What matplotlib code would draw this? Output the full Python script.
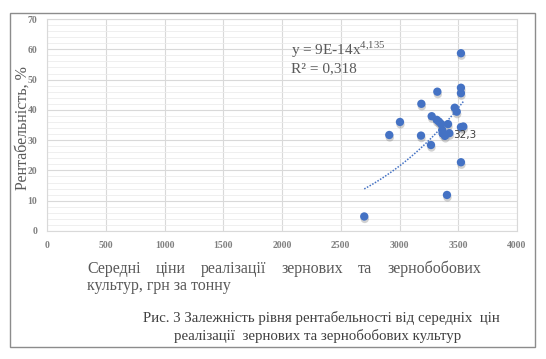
import numpy as np
import matplotlib
matplotlib.use("Agg")
import matplotlib.pyplot as plt
import matplotlib.transforms as mtransforms
from matplotlib.patches import Rectangle

plt.rcParams['mathtext.fontset'] = 'custom'
plt.rcParams['mathtext.rm'] = 'Liberation Serif'

# average sale price, UAH per tonne / profitability, %
price = [2700, 2913, 3004, 3183, 3186, 3268, 3274, 3317, 3322, 3336, 3356, 3364,
         3367, 3387, 3413, 3424, 3404, 3470, 3487, 3523, 3523, 3523, 3523, 3523, 3543]
profit = [4.8, 31.7, 36.0, 31.5, 42.0, 28.4, 37.9, 36.7, 46.0, 36.1, 35.3, 33.3,
          32.2, 31.4, 35.3, 32.3, 11.9, 40.7, 39.4, 58.7, 47.3, 45.5, 34.3, 22.7, 34.5]
label_idx = 15  # point carrying the "32,3" data label

# power trendline shown on the chart
coef_a = 9e-14
coef_b = 4.135

blue = '#4472C4'
grey = '#595959'

fig = plt.figure(figsize=(5.46, 3.59), dpi=100)
fig.patch.set_facecolor('white')
fig.patches.append(Rectangle((10 / 546, 1 - 347 / 359), 525 / 546, 334 / 359,
                             transform=fig.transFigure, fill=False,
                             edgecolor='#8c8c8c', linewidth=1.0))

ax = fig.add_axes([47 / 546, 1 - 231 / 359, 470 / 546, 212 / 359])
ax.set_xlim(0, 4000)
ax.set_ylim(0, 70)
ax.set_xticks(np.arange(0, 4001, 500))
ax.set_yticks(np.arange(0, 71, 10))
ax.set_yticks(np.arange(0, 71, 2), minor=True)
ax.grid(which='major', color='#d9d9d9', linewidth=0.8)
ax.grid(which='minor', axis='y', color='#ececec', linewidth=0.6)
ax.set_axisbelow(True)
for s in ax.spines.values():
    s.set_color('#d9d9d9')
    s.set_linewidth(0.8)
ax.tick_params(which='both', length=0, labelsize=7, labelcolor='#7f7f7f', pad=7)
for lab in ax.get_xticklabels() + ax.get_yticklabels():
    lab.set_family('Liberation Serif')
    lab.set_fontweight('bold')

# trendline
xs = np.linspace(min(price), max(price), 100)
ax.plot(xs, coef_a * xs ** coef_b, color=blue, linestyle=(0, (1, 1)), linewidth=1.1, zorder=2)

# marker shadows then markers
shadow = mtransforms.offset_copy(ax.transData, fig=fig, x=0.5, y=-2.5, units='dots')
ax.scatter(price, profit, s=36, color='#808080', alpha=0.35, edgecolors='none',
           transform=shadow, zorder=3)
ax.scatter(price, profit, s=36, color=blue, edgecolors='none', zorder=4)

ax.annotate('32,3', (price[label_idx], profit[label_idx]), xytext=(3, -1),
            textcoords='offset points', fontsize=7.5, color='#404040',
            family='DejaVu Sans', va='center', ha='left', zorder=5)

ax.text(2080, 58.0, r'y = 9E-14x$^{\mathrm{4{,}135}}$', fontsize=11,
        family='Liberation Serif', color=grey, va='baseline')
ax.text(2080, 52.5, 'R² = 0,318', fontsize=11, family='Liberation Serif',
        color=grey, va='baseline')

# y axis title
fig.text(23 / 546, 1 - 128 / 359, 'Рентабельність, %', rotation=90,
         fontsize=11.5, family='Liberation Serif', color=grey, ha='center', va='center')

# x axis title, first line justified between two pixel edges
words = ['Середні', 'ціни', 'реалізації', 'зернових', 'та', 'зернобобових']
left_px, right_px = 87, 481
renderer = fig.canvas.get_renderer()
word_texts = [fig.text(0, 1 - 269 / 359, w, fontsize=11.5, family='Liberation Serif',
                       color=grey, ha='left', va='center') for w in words]
widths = [t.get_window_extent(renderer).width for t in word_texts]
gap = (right_px - left_px - sum(widths)) / (len(words) - 1)
px = left_px
for t, wd in zip(word_texts, widths):
    t.set_x(px / 546)
    px += wd + gap
fig.text(87 / 546, 1 - 286 / 359, 'культур, грн за тонну', fontsize=11.5,
         family='Liberation Serif', color=grey, ha='left', va='center')

# caption
fig.text(500 / 546, 1 - 318 / 359, 'Рис. 3 Залежність рівня рентабельності від середніх  цін',
         fontsize=10.7, family='Liberation Serif', color='#404040', ha='right', va='center')
fig.text(318 / 546, 1 - 336 / 359, 'реалізації  зернових та зернобобових культур',
         fontsize=10.7, family='Liberation Serif', color='#404040', ha='center', va='center')

fig.savefig('out.png', dpi=100, facecolor='white')
